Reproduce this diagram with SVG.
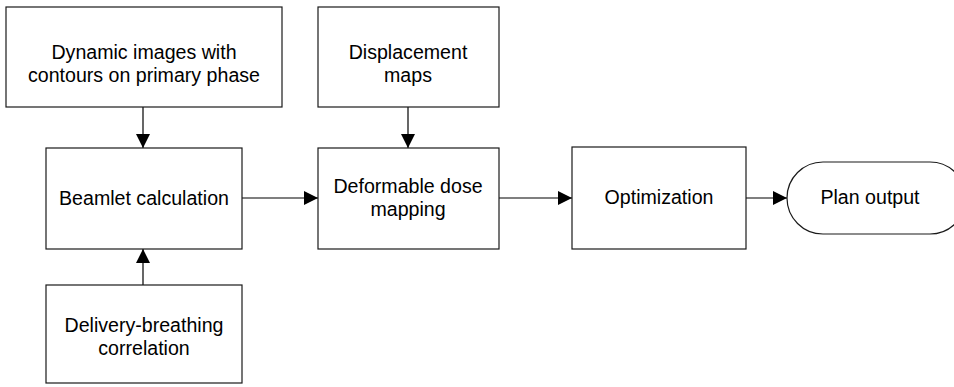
<svg xmlns="http://www.w3.org/2000/svg" width="954" height="387" viewBox="0 0 954 387">
  <style>
    .box { fill: #ffffff; stroke: #1a1a1a; stroke-width: 1.2; }
    .lbl { font-family: "Liberation Sans", Arial, sans-serif; font-size: 19.6px; fill: #000000; text-anchor: middle; }
    .wire { fill: none; stroke: #000000; stroke-width: 1.2; marker-end: url(#arrow); }
  </style>
  <defs>
    <marker id="arrow" markerWidth="14" markerHeight="14" refX="14" refY="7" orient="auto" markerUnits="userSpaceOnUse">
      <path d="M0,0 L14,7 L0,14 Z" fill="#000000"/>
    </marker>
  </defs>
  <rect width="954" height="387" fill="#ffffff"/>

  <g id="connectors">
    <path class="wire" d="M143,107 V148"/>
    <path class="wire" d="M143,285 V249"/>
    <path class="wire" d="M408,107 V148"/>
    <path class="wire" d="M242,198 H318"/>
    <path class="wire" d="M499,198 H572"/>
    <path class="wire" d="M746,198 H787"/>
  </g>

  <g id="dynamic-images">
    <rect class="box" x="6" y="7" width="276" height="100"/>
    <text class="lbl" x="144" y="59">Dynamic images with</text>
    <text class="lbl" x="144" y="82">contours on primary phase</text>
  </g>

  <g id="displacement-maps">
    <rect class="box" x="318" y="7" width="181" height="100"/>
    <text class="lbl" x="408" y="59">Displacement</text>
    <text class="lbl" x="408" y="82">maps</text>
  </g>

  <g id="beamlet-calculation">
    <rect class="box" x="46" y="148" width="196" height="101"/>
    <text class="lbl" x="144" y="205">Beamlet calculation</text>
  </g>

  <g id="deformable-dose-mapping">
    <rect class="box" x="318" y="148" width="181" height="101"/>
    <text class="lbl" x="408" y="193">Deformable dose</text>
    <text class="lbl" x="408" y="216">mapping</text>
  </g>

  <g id="optimization">
    <rect class="box" x="572" y="147" width="174" height="102"/>
    <text class="lbl" x="659" y="204">Optimization</text>
  </g>

  <g id="plan-output">
    <rect class="box" x="787" y="162" width="179" height="72" rx="36" ry="36"/>
    <text class="lbl" x="870" y="204">Plan output</text>
  </g>

  <g id="delivery-breathing-correlation">
    <rect class="box" x="46" y="285" width="196" height="98"/>
    <text class="lbl" x="144" y="332">Delivery-breathing</text>
    <text class="lbl" x="144" y="355">correlation</text>
  </g>
</svg>
